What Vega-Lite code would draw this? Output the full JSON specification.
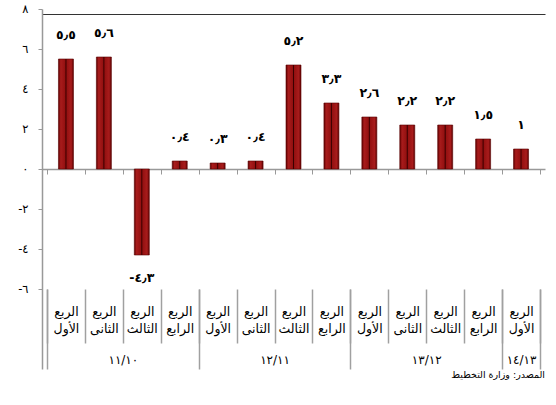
{
  "$schema": "https://vega.github.io/schema/vega-lite/v6.json",
  "autosize": "none",
  "width": 503,
  "height": 360,
  "padding": {"left": 42, "top": 9, "right": 11, "bottom": 36},
  "background": "white",
  "config": {"font": "DejaVu Sans", "view": {"stroke": null}, "axis": {"grid": false, "title": null}},
  "title": {"text": "المصدر: وزارة التخطيط", "orient": "bottom", "anchor": "end", "fontSize": 9.5, "fontWeight": "normal", "color": "#000", "offset": 0, "baseline": "top"},
  "data": {"values": [
    {"i": 1, "v": 5.5, "lbl": "٥٫٥"},
    {"i": 2, "v": 5.6, "lbl": "٥٫٦"},
    {"i": 3, "v": -4.3, "lbl": "-٤٫٣"},
    {"i": 4, "v": 0.4, "lbl": "٠٫٤"},
    {"i": 5, "v": 0.3, "lbl": "٠٫٣"},
    {"i": 6, "v": 0.4, "lbl": "٠٫٤"},
    {"i": 7, "v": 5.2, "lbl": "٥٫٢"},
    {"i": 8, "v": 3.3, "lbl": "٣٫٣"},
    {"i": 9, "v": 2.6, "lbl": "٢٫٦"},
    {"i": 10, "v": 2.2, "lbl": "٢٫٢"},
    {"i": 11, "v": 2.2, "lbl": "٢٫٢"},
    {"i": 12, "v": 1.5, "lbl": "١٫٥"},
    {"i": 13, "v": 1, "lbl": "١"}
  ]},
  "encoding": {
    "y": {"field": "v", "type": "quantitative", "stack": null, "scale": {"domain": [-10, 8], "nice": false, "zero": false},
      "axis": {"values": [-6, -4, -2, 0, 2, 4, 6, 8],
        "labelExpr": "['-٦', '', '-٤', '', '-٢', '', '٠', '', '٢', '', '٤', '', '٦', '', '٨'][datum.value + 6]",
        "tickSize": 4, "tickColor": "#999", "domainColor": "#999", "domainWidth": 1.5, "labelPadding": 10, "labelFontSize": 11.5, "labelColor": "#000"}}
  },
  "resolve": {"axis": {"x": "independent", "y": "shared"}},
  "layer": [
    {
      "mark": {"type": "bar", "width": 15, "stroke": "#5a0000", "strokeWidth": 0.6,
        "color": {"gradient": "linear", "x1": 0, "y1": 0, "x2": 1, "y2": 0, "stops": [
          {"offset": 0, "color": "#5e0000"}, {"offset": 0.15, "color": "#a81c1c"}, {"offset": 0.5, "color": "#900e0e"}, {"offset": 0.85, "color": "#a81c1c"}, {"offset": 1, "color": "#5e0000"}]}},
      "encoding": {
        "x": {"field": "i", "type": "quantitative", "scale": {"domain": [0.5, 13.5], "nice": false, "zero": false},
          "axis": {"orient": "bottom", "values": [1,2,3,4,5,6,7,8,9,10,11,12,13], "ticks": false, "domain": false,
            "labelExpr": "['الربع', ['', 'الأول', 'الثانى', 'الثالث', 'الرابع', 'الأول', 'الثانى', 'الثالث', 'الرابع', 'الأول', 'الثانى', 'الثالث', 'الرابع', 'الأول'][datum.value]]",
            "labelFontSize": 12.5, "labelColor": "#000", "labelPadding": 16, "labelBaseline": "top", "labelLineHeight": 17,
            "labelFlush": false, "labelOverlap": false, "labelBound": false, "labelAngle": 0, "labelAlign": "center", "offset": -80}}
      }
    },
    {
      "mark": {"type": "rule", "color": "#3b0000", "strokeWidth": 1},
      "encoding": {
        "x": {"field": "i", "type": "quantitative", "scale": {"domain": [0.5, 13.5], "nice": false, "zero": false}, "axis": null},
        "y2": {"datum": 0}
      }
    },
    {
      "transform": [{"filter": "datum.v >= 0"}],
      "mark": {"type": "text", "dy": -24, "fontSize": 12.5, "fontWeight": "bold", "baseline": "middle", "color": "#000"},
      "encoding": {
        "x": {"field": "i", "type": "quantitative", "scale": {"domain": [0.5, 13.5], "nice": false, "zero": false}, "axis": null},
        "text": {"field": "lbl"}
      }
    },
    {
      "transform": [{"filter": "datum.v < 0"}],
      "mark": {"type": "text", "dy": 23, "fontSize": 12.5, "fontWeight": "bold", "baseline": "middle", "color": "#000"},
      "encoding": {
        "x": {"field": "i", "type": "quantitative", "scale": {"domain": [0.5, 13.5], "nice": false, "zero": false}, "axis": null},
        "text": {"field": "lbl"}
      }
    },
    {
      "mark": {"type": "rule", "opacity": 0},
      "encoding": {
        "x": {"field": "i", "type": "quantitative", "scale": {"domain": [0.5, 13.5], "nice": false, "zero": false},
          "axis": {"orient": "bottom", "values": [0.5,1.5,2.5,3.5,4.5,5.5,6.5,7.5,8.5,9.5,10.5,11.5,12.5,13.5], "labels": false, "domain": false, "ticks": true, "tickSize": 54, "tickColor": "#a0a0a0", "tickWidth": 1.5, "offset": -80}}
      }
    },
    {
      "mark": {"type": "rule", "opacity": 0},
      "encoding": {
        "x": {"field": "i", "type": "quantitative", "scale": {"domain": [0.5, 13.5], "nice": false, "zero": false},
          "axis": {"orient": "bottom", "values": [0.5, 4.5, 8.5, 12.5, 13.5], "labels": false, "domain": false, "ticks": true, "tickSize": 80, "tickColor": "#a0a0a0", "tickWidth": 1.5, "offset": -80}}
      }
    },
    {
      "mark": {"type": "rule", "opacity": 0},
      "encoding": {
        "x": {"field": "i", "type": "quantitative", "scale": {"domain": [0.5, 13.5], "nice": false, "zero": false},
          "axis": {"orient": "bottom", "values": [2.5, 6.5, 10.5, 13], "ticks": false, "domain": false,
            "labelExpr": "datum.value == 2.5 ? '١١/١٠' : datum.value == 6.5 ? '١٢/١١' : datum.value == 10.5 ? '١٣/١٢' : '١٤/١٣'",
            "labelFontSize": 12, "labelColor": "#000", "labelPadding": 70, "labelBaseline": "middle", "labelFlush": false, "labelOverlap": false, "labelBound": false, "labelAngle": 0, "labelAlign": "center", "offset": -80}}
      }
    },
    {
      "mark": {"type": "rule", "opacity": 0},
      "encoding": {
        "x": {"field": "i", "type": "quantitative", "scale": {"domain": [0.5, 13.5], "nice": false, "zero": false},
          "axis": {"orient": "bottom", "values": [0.5,1.5,2.5,3.5,4.5,5.5,6.5,7.5,8.5,9.5,10.5,11.5,12.5,13.5], "labels": false, "domain": true, "domainColor": "#999", "domainWidth": 1.5, "ticks": true, "tickSize": 5, "tickColor": "#999", "offset": -200}}
      }
    },
    {
      "mark": {"type": "rule", "opacity": 0},
      "encoding": {
        "x": {"field": "i", "type": "quantitative", "scale": {"domain": [0.5, 13.5], "nice": false, "zero": false},
          "axis": {"orient": "top", "values": [], "labels": false, "ticks": false, "domain": true, "domainColor": "#333", "domainWidth": 1.2, "offset": -5}}
      }
    }
  ]
}
